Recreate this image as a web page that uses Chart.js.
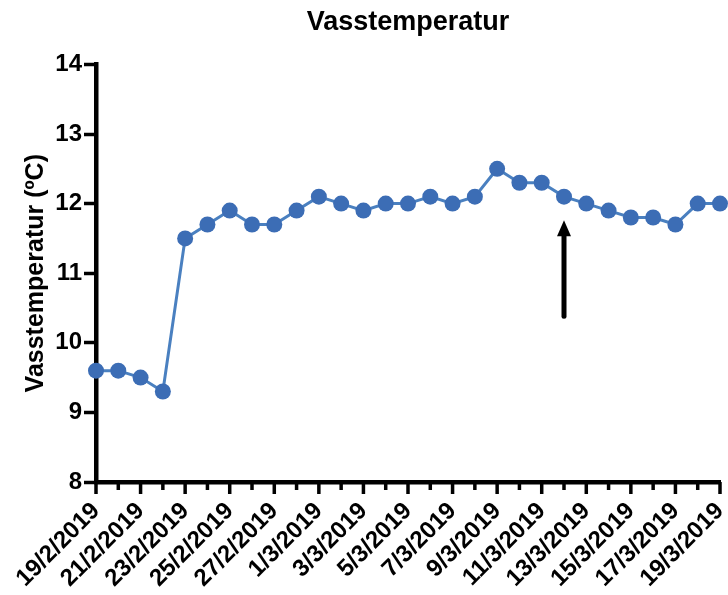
<!DOCTYPE html>
<html>
<head>
<meta charset="utf-8">
<title>Vasstemperatur</title>
<script src="https://cdn.jsdelivr.net/npm/chart.js@4/dist/chart.umd.min.js"></script>
<style>
  html, body { margin: 0; padding: 0; background: #fff; }
  #wrap { width: 728px; height: 595px; }
</style>
</head>
<body>
<div id="wrap"><canvas id="chart" width="728" height="595"></canvas></div>
<script>
'use strict';

// dates (daily, 19/2 - 19/3 2019)
var dates = [
  '19/2/2019', '20/2/2019', '21/2/2019', '22/2/2019', '23/2/2019', '24/2/2019',
  '25/2/2019', '26/2/2019', '27/2/2019', '28/2/2019', '1/3/2019', '2/3/2019',
  '3/3/2019', '4/3/2019', '5/3/2019', '6/3/2019', '7/3/2019', '8/3/2019',
  '9/3/2019', '10/3/2019', '11/3/2019', '12/3/2019', '13/3/2019', '14/3/2019',
  '15/3/2019', '16/3/2019', '17/3/2019', '18/3/2019', '19/3/2019'
];

// water temperature, degrees C
var temps = [
  9.6, 9.6, 9.5, 9.3, 11.5, 11.7, 11.9, 11.7, 11.7, 11.9,
  12.1, 12.0, 11.9, 12.0, 12.0, 12.1, 12.0, 12.1, 12.5, 12.3,
  12.3, 12.1, 12.0, 11.9, 11.8, 11.8, 11.7, 12.0, 12.0
];

var yTicks = [8, 9, 10, 11, 12, 13, 14];

// arrow marker (category index, from / to in degrees C)
var arrowAt = 21;
var arrowFrom = 10.38;
var arrowTo = 11.76;

var FONT = 'Liberation Sans, Arial, Helvetica, sans-serif';

// x ticks: long on labelled days, short in between
var xTickMarks = {
  id: 'xTickMarks',
  afterDraw: function (chart) {
    var ctx = chart.ctx;
    var x = chart.scales.x;
    var bottom = chart.chartArea.bottom;
    ctx.save();
    ctx.strokeStyle = '#000';
    ctx.lineWidth = 3.5;
    for (var i = 0; i < dates.length; i++) {
      var px = x.getPixelForValue(i);
      var len = (i % 2 === 0) ? 12 : 8;
      ctx.beginPath();
      ctx.moveTo(px, bottom);
      ctx.lineTo(px, bottom + len);
      ctx.stroke();
    }
    ctx.restore();
  }
};

var arrowMark = {
  id: 'arrowMark',
  afterDatasetsDraw: function (chart) {
    var ctx = chart.ctx;
    var px = chart.scales.x.getPixelForValue(arrowAt);
    var y0 = chart.scales.y.getPixelForValue(arrowFrom);
    var y1 = chart.scales.y.getPixelForValue(arrowTo);
    var head = 16;
    ctx.save();
    ctx.strokeStyle = '#000';
    ctx.fillStyle = '#000';
    ctx.lineWidth = 5;
    ctx.lineCap = 'round';
    ctx.beginPath();
    ctx.moveTo(px, y0);
    ctx.lineTo(px, y1 + head - 2);
    ctx.stroke();
    ctx.beginPath();
    ctx.moveTo(px, y1);
    ctx.lineTo(px - 7, y1 + head);
    ctx.lineTo(px + 7, y1 + head);
    ctx.closePath();
    ctx.fill();
    ctx.restore();
  }
};

var ctx = document.getElementById('chart');
new Chart(ctx, {
  type: 'line',
  data: {
    labels: dates,
    datasets: [{
      data: temps,
      borderColor: '#4a80c0',
      borderWidth: 3,
      backgroundColor: '#3c6db5',
      pointBackgroundColor: '#3c6db5',
      pointBorderColor: '#3c6db5',
      pointBorderWidth: 0,
      pointRadius: 8,
      tension: 0,
      clip: false
    }]
  },
  options: {
    responsive: false,
    animation: false,
    layout: { padding: { left: 0, right: 6, top: 0, bottom: 0 } },
    plugins: {
      legend: { display: false },
      tooltip: { enabled: false },
      title: {
        display: true,
        text: 'Vasstemperatur',
        fullSize: false,
        color: '#000',
        font: { family: FONT, size: 27, weight: 'bold' },
        padding: { top: 6, bottom: 26 }
      }
    },
    scales: {
      x: {
        type: 'category',
        offset: false,
        grid: { display: true, drawOnChartArea: false, drawTicks: true, tickLength: 12, tickColor: 'rgba(0,0,0,0)' },
        border: { display: true, color: '#000', width: 4.5 },
        ticks: {
          autoSkip: false,
          maxRotation: 45,
          minRotation: 45,
          padding: 3,
          color: '#000',
          font: { family: FONT, size: 24, weight: 'bold' },
          callback: function (val, i) { return i % 2 === 0 ? dates[i] : ''; }
        },
        afterFit: function (scale) {
          scale.height = 113;
          scale.paddingRight = 0;
          scale.paddingLeft = 0;
        }
      },
      y: {
        min: yTicks[0],
        max: yTicks[yTicks.length - 1],
        grid: { display: true, drawOnChartArea: false, drawTicks: true, tickLength: 12, tickWidth: 3.5, tickColor: '#000' },
        border: { display: true, color: '#000', width: 4.5 },
        afterBuildTicks: function (scale) {
          scale.ticks = yTicks.map(function (v) { return { value: v }; });
        },
        ticks: {
          padding: 2,
          color: '#000',
          font: { family: FONT, size: 24, weight: 'bold' }
        },
        title: {
          display: true,
          text: 'Vasstemperatur (ºC)',
          color: '#000',
          font: { family: FONT, size: 25, weight: 'bold' },
          padding: { top: 21, bottom: 0 }
        },
        afterFit: function (scale) { scale.width = 96; }
      }
    }
  },
  plugins: [xTickMarks, arrowMark]
});
</script>
</body>
</html>
